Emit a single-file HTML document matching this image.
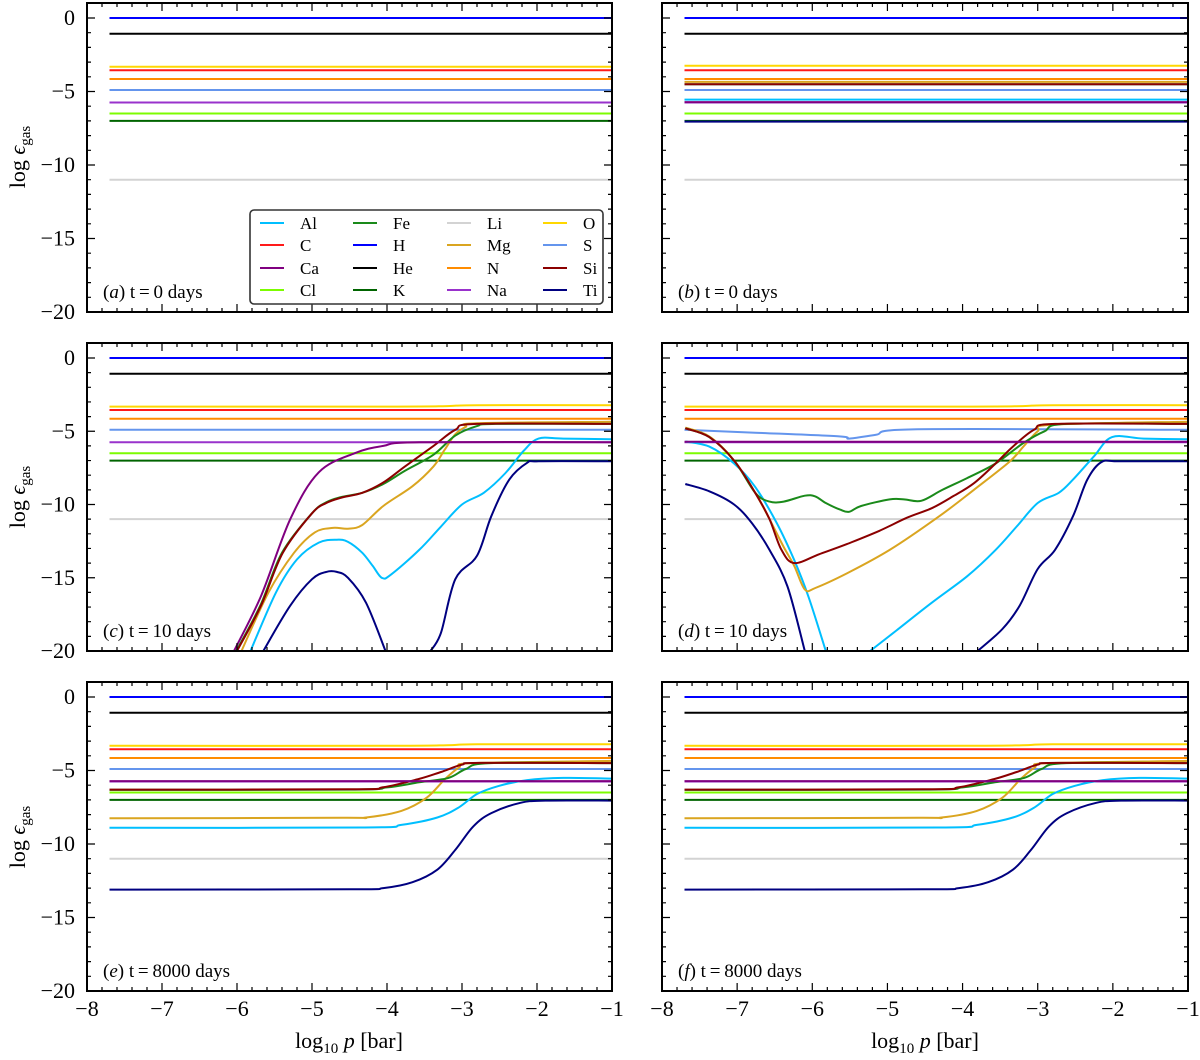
<!DOCTYPE html>
<html><head><meta charset="utf-8"><style>
body{margin:0;background:#fff}
svg{display:block;font-family:"Liberation Serif",serif}
</style></head><body>
<svg id="chart" width="1200" height="1060" viewBox="0 0 1200 1060" xmlns="http://www.w3.org/2000/svg"></svg>
<script>
const xTicks=[-8,-7,-6,-5,-4,-3,-2,-1];
const yTicks=[0,-5,-10,-15,-20];
const elements=["Al","C","Ca","Cl","Fe","H","He","K","Li","Mg","N","Na","O","S","Si","Ti"];
const colors={Al:"#00bfff",C:"#ff1a1a",Ca:"#800080",Cl:"#7cfc00",Fe:"#1a8a1a",H:"#0000ff",He:"#000000",K:"#006400",Li:"#d3d3d3",Mg:"#daa520",N:"#ff8c00",Na:"#9932cc",O:"#ffd700",S:"#6495ed",Si:"#8b0000",Ti:"#000080"};
const drawOrder=["Li","K","Cl","Na","S","N","C","O","He","H","Ti","Al","Mg","Fe","Si","Ca"];
const panelLabels=["a","b","c","d","e","f"];
const panelTimes=["0","0","10","10","8000","8000"];
const constA={H:0,He:-1.07,O:-3.32,C:-3.55,N:-4.15,S:-4.9,Na:-5.75,Cl:-6.5,K:-7.0,Li:-11.0};
const constB={H:0,He:-1.07,O:-3.25,C:-3.55,N:-4.15,Mg:-4.35,Fe:-4.5,Si:-4.5,S:-4.9,Al:-5.55,Ca:-5.72,Na:-5.75,Cl:-6.5,K:-7.0,Ti:-7.05,Li:-11.0};
const oX=[-7.7,-4,-3.2,-2.8,-1];
const oY=[-3.32,-3.32,-3.28,-3.22,-3.22];
const cCa=[[-6.04,-20],[-5.68,-16.25],[-5.29,-11.0],[-4.91,-7.8],[-4.43,-6.5],[-4.05,-6.0],[-3.57,-5.75],[-1,-5.75]];
const cSi=[[-6.0,-20],[-5.68,-16.9],[-5.39,-13.3],[-5.0,-10.6],[-4.81,-9.9],[-4.62,-9.55],[-4.33,-9.2],[-4.05,-8.5],[-3.76,-7.4],[-3.38,-6.0],[-3.09,-4.9],[-2.8,-4.5],[-1,-4.5]];
const cFe=[[-6.01,-20],[-5.69,-16.9],[-5.4,-13.3],[-5.0,-10.6],[-4.81,-9.85],[-4.62,-9.5],[-4.33,-9.2],[-4.05,-8.6],[-3.76,-7.7],[-3.38,-6.6],[-3.09,-5.3],[-2.8,-4.65],[-2.55,-4.5],[-1,-4.5]];
const cMg=[[-5.94,-20],[-5.58,-16],[-5.24,-13.3],[-4.96,-11.9],[-4.72,-11.6],[-4.52,-11.65],[-4.33,-11.4],[-4.05,-10.1],[-3.66,-8.75],[-3.38,-7.4],[-3.23,-6.25],[-3.09,-5.2],[-2.95,-4.7],[-2.8,-4.45],[-1,-4.35]];
const cAl=[[-5.82,-20],[-5.48,-16],[-5.2,-13.75],[-4.91,-12.6],[-4.67,-12.4],[-4.52,-12.55],[-4.33,-13.3],[-4.19,-14.2],[-4.07,-15.0],[-3.95,-14.8],[-3.57,-13.1],[-3.28,-11.5],[-3.0,-10.0],[-2.71,-9.2],[-2.42,-7.85],[-2.18,-6.35],[-1.98,-5.5],[-1.65,-5.5],[-1,-5.55]];
const cTi1=[[-5.65,-20],[-5.29,-16.9],[-5.0,-15.1],[-4.81,-14.6],[-4.67,-14.6],[-4.52,-15],[-4.28,-16.7],[-4.02,-20]];
const cTi2=[[-3.42,-20],[-3.28,-18.75],[-3.09,-15.1],[-2.8,-13.5],[-2.61,-10.8],[-2.37,-8.3],[-2.13,-7.15],[-1.98,-7.05],[-1,-7.05]];
const dSi=[[-7.69,-4.8],[-7.37,-5.4],[-7.04,-7.0],[-6.76,-9.2],[-6.57,-11.0],[-6.41,-13.1],[-6.24,-14.0],[-5.91,-13.4],[-5.54,-12.7],[-5.11,-11.8],[-4.74,-10.9],[-4.41,-10.25],[-4.13,-9.45],[-3.85,-8.55],[-3.56,-7.2],[-3.33,-6.05],[-3.05,-4.9],[-2.77,-4.5],[-1,-4.5]];
const dFe=[[-7.69,-4.8],[-7.37,-5.4],[-7.04,-7.0],[-6.76,-9.2],[-6.57,-9.8],[-6.38,-9.8],[-6.1,-9.4],[-5.96,-9.45],[-5.82,-9.9],[-5.63,-10.35],[-5.51,-10.5],[-5.35,-10.1],[-4.97,-9.65],[-4.78,-9.65],[-4.55,-9.75],[-4.27,-9.0],[-3.94,-8.2],[-3.56,-7.2],[-3.19,-5.8],[-2.91,-5.0],[-2.62,-4.5],[-1,-4.5]];
const dMg=[[-7.69,-4.75],[-7.37,-5.35],[-7.04,-7.0],[-6.76,-9.2],[-6.57,-11.0],[-6.38,-12.9],[-6.24,-14.2],[-6.1,-15.8],[-5.96,-15.7],[-5.54,-14.7],[-4.97,-13.1],[-4.31,-10.8],[-3.85,-9.0],[-3.38,-7.1],[-3.19,-6.05],[-3.0,-5.0],[-2.81,-4.55],[-1,-4.35]];
const dAl1=[[-7.69,-5.7],[-7.37,-6.05],[-7.04,-7.2],[-6.76,-8.8],[-6.47,-11.3],[-6.24,-13.8],[-6.05,-16.3],[-5.82,-20]];
const dAl2=[[-5.23,-20],[-4.88,-18.6],[-4.41,-16.7],[-3.94,-14.9],[-3.56,-13.1],[-3.28,-11.5],[-3.0,-9.9],[-2.72,-9.2],[-2.53,-8.3],[-2.25,-6.7],[-2.01,-5.4],[-1.59,-5.5],[-1,-5.55]];
const dTi1=[[-7.69,-8.6],[-7.37,-9.1],[-7.04,-10.0],[-6.8,-11.3],[-6.57,-13.1],[-6.33,-15.6],[-6.1,-20]];
const dTi2=[[-3.8,-20],[-3.47,-18.5],[-3.24,-16.9],[-3.0,-14.4],[-2.77,-13.1],[-2.53,-10.8],[-2.34,-8.3],[-2.15,-7.1],[-1.9,-7.05],[-1,-7.05]];
const dS=[[-7.7,-4.9],[-6.76,-5.1],[-5.64,-5.35],[-5.51,-5.5],[-5.16,-5.25],[-4.6,-4.87],[-1,-4.9]];
const eSi=[[-7.7,-6.3],[-4.5,-6.28],[-4.05,-6.14],[-3.57,-5.57],[-3.28,-5.1],[-3.0,-4.6],[-2.76,-4.48],[-1,-4.5]];
const eFe=[[-7.7,-6.32],[-4.5,-6.3],[-4.0,-6.15],[-3.57,-5.8],[-3.18,-5.5],[-2.95,-4.9],[-2.62,-4.5],[-1,-4.5]];
const eMg=[[-7.7,-8.25],[-4.6,-8.22],[-4.28,-8.2],[-3.81,-7.75],[-3.47,-6.85],[-3.23,-5.6],[-3.04,-4.8],[-2.85,-4.5],[-1,-4.35]];
const eAl=[[-7.7,-8.9],[-4.3,-8.88],[-3.81,-8.7],[-3.33,-8.2],[-3.04,-7.5],[-2.8,-6.6],[-2.51,-6.05],[-2.13,-5.65],[-1.65,-5.5],[-1,-5.55]];
const eTi=[[-7.7,-13.1],[-4.5,-13.08],[-4.05,-13.0],[-3.66,-12.6],[-3.33,-11.75],[-3.09,-10.4],[-2.85,-8.8],[-2.61,-7.9],[-2.22,-7.2],[-1.89,-7.05],[-1,-7.05]];

const NS="http://www.w3.org/2000/svg";
const svg=document.getElementById("chart");
function mk(tag,attrs,parent){const e=document.createElementNS(NS,tag);for(const k in attrs)e.setAttribute(k,attrs[k]);(parent||svg).appendChild(e);return e;}
const panelX=[[87,612],[662,1188]];
const panelY=[[3,312],[343,651],[682,991]];
function xs(p,v){const [a,b]=panelX[p%2];return a+(v+8)/7*(b-a);}
function ys(p,v){const [t,bt]=panelY[Math.floor(p/2)];const y0=t+15;return y0+(-v)/20*(bt-y0);}
function smoothPath(P){
  if(P.length<3)return P.map((q,i)=>(i?"L":"M")+q[0].toFixed(1)+","+q[1].toFixed(1)).join("");
  let d="M"+P[0][0].toFixed(1)+","+P[0][1].toFixed(1);
  for(let i=0;i<P.length-1;i++){
    const p0=P[i-1]||P[i],p1=P[i],p2=P[i+1],p3=P[i+2]||P[i+1];
    const c1=[p1[0]+(p2[0]-p0[0])/6,p1[1]+(p2[1]-p0[1])/6];
    const c2=[p2[0]-(p3[0]-p1[0])/6,p2[1]-(p3[1]-p1[1])/6];
    d+=`C${c1[0].toFixed(1)},${c1[1].toFixed(1)} ${c2[0].toFixed(1)},${c2[1].toFixed(1)} ${p2[0].toFixed(1)},${p2[1].toFixed(1)}`;
  }
  return d;
}
function line(p,g,pts,el){
  const P=pts.map(q=>[xs(p,q[0]),ys(p,q[1])]);
  const path=mk("path",{d:smoothPath(P),fill:"none",stroke:colors[el],"stroke-width":2,"stroke-linejoin":"round"},g);
  
  
}
function flat(v){return [[-7.7,v],[-1,v]];}
function seriesFor(p){
  const s={};
  if(p===0){for(const k in constA)s[k]=[flat(constA[k])];return s;}
  if(p===1){for(const k in constB)s[k]=[flat(constB[k])];return s;}
  const base={H:0,He:-1.07,C:-3.55,N:-4.15,S:-4.9,Na:-5.75,Cl:-6.5,K:-7.0,Li:-11.0};
  for(const k in base)s[k]=[flat(base[k])];
  s.O=[oX.map((x,i)=>[x,oY[i]])];
  if(p===2){s.Ca=[cCa];s.Si=[cSi];s.Fe=[cFe];s.Mg=[cMg];s.Al=[cAl];s.Ti=[cTi1,cTi2];}
  if(p===3){s.Ca=[flat(-5.72)];s.Si=[dSi];s.Fe=[dFe];s.Mg=[dMg];s.Al=[dAl1,dAl2];s.Ti=[dTi1,dTi2];s.S=[dS];}
  if(p>=4){s.Ca=[flat(-5.72)];s.Si=[eSi];s.Fe=[eFe];s.Mg=[eMg];s.Al=[eAl];s.Ti=[eTi];}
  return s;
}
for(let p=0;p<6;p++){
  const g=mk("g",{});
  
  
  const [x0,x1]=panelX[p%2];const [t,b]=panelY[Math.floor(p/2)];
  const clipId="clip"+p;
  const cp=mk("clipPath",{id:clipId},g);mk("rect",{x:x0,y:t,width:x1-x0,height:b-t},cp);
  const lg=mk("g",{"clip-path":"url(#"+clipId+")"},g);
  const s=seriesFor(p);
  for(const el of drawOrder){if(s[el])for(const pts of s[el])line(p,lg,pts,el);}
  let td="";
  for(let v=-8;v<=-1.0001;v+=0.2){const x=xs(p,v);const major=Math.abs(v-Math.round(v))<0.01;const L=major?8:4;td+=`M${x},${b}v${-L}M${x},${t}v${L}`;}
  for(let v=1;v>=-20;v--){const y=ys(p,v);if(y<t||y>b)continue;const L=(v%5===0)?8:4;td+=`M${x0},${y}h${L}M${x1},${y}h${-L}`;}
  const tk=mk("path",{d:td,stroke:"#000","stroke-width":1.2,fill:"none"},g);
  
  
  const fr=mk("rect",{x:x0,y:t,width:x1-x0,height:b-t,fill:"none",stroke:"#000","stroke-width":2},g);
  
  
  if(p%2===0){for(const v of yTicks){const tx=mk("text",{x:x0-12,y:ys(p,v)+7,"text-anchor":"end","font-size":22},g);tx.textContent=v===0?"0":"\u2212"+Math.abs(v);}}
  if(p>=4){for(const v of xTicks){const tx=mk("text",{x:xs(p,v),y:b+25,"text-anchor":"middle","font-size":22},g);tx.textContent="\u2212"+Math.abs(v);}}
  const pl=mk("text",{x:x0+16,y:b-14,"font-size":19},g);
  pl.innerHTML=`(<tspan font-style="italic">${panelLabels[p]}</tspan>) t\u2009=\u2009${panelTimes[p]} days`;
  
  
}
[[157],[497],[837]].forEach(([cy])=>{
  const t=mk("text",{x:0,y:0,"font-size":22,transform:`translate(25,${cy}) rotate(-90)`,"text-anchor":"middle"});
  t.innerHTML='log <tspan font-style="italic">ϵ</tspan><tspan font-size="15" dy="5">gas</tspan>';
  
  
});
[[349],[925]].forEach(([cx])=>{
  const t=mk("text",{x:cx,y:1048,"font-size":22,"text-anchor":"middle"});
  t.innerHTML='log<tspan font-size="15" dy="5">10</tspan><tspan dy="-5"> </tspan><tspan font-style="italic">p</tspan> [bar]';
  
  
});
const leg=mk("g",{});


mk("rect",{x:250,y:210,width:353,height:94,rx:4,fill:"#fff",stroke:"#333","stroke-width":1.6},leg);
const colX=[260,353,447,543];const labX=[300,393,487,583];const rowY=[223,245,268,290];
elements.forEach((el,i)=>{
  const c=Math.floor(i/4),r=i%4;
  const e=mk("g",{},leg);
  
  
  mk("line",{x1:colX[c],x2:colX[c]+24,y1:rowY[r],y2:rowY[r],stroke:colors[el],"stroke-width":2},e);
  const t=mk("text",{x:labX[c],y:rowY[r]+6,"font-size":17},e);t.textContent=el;
});
</script>
</body></html>
